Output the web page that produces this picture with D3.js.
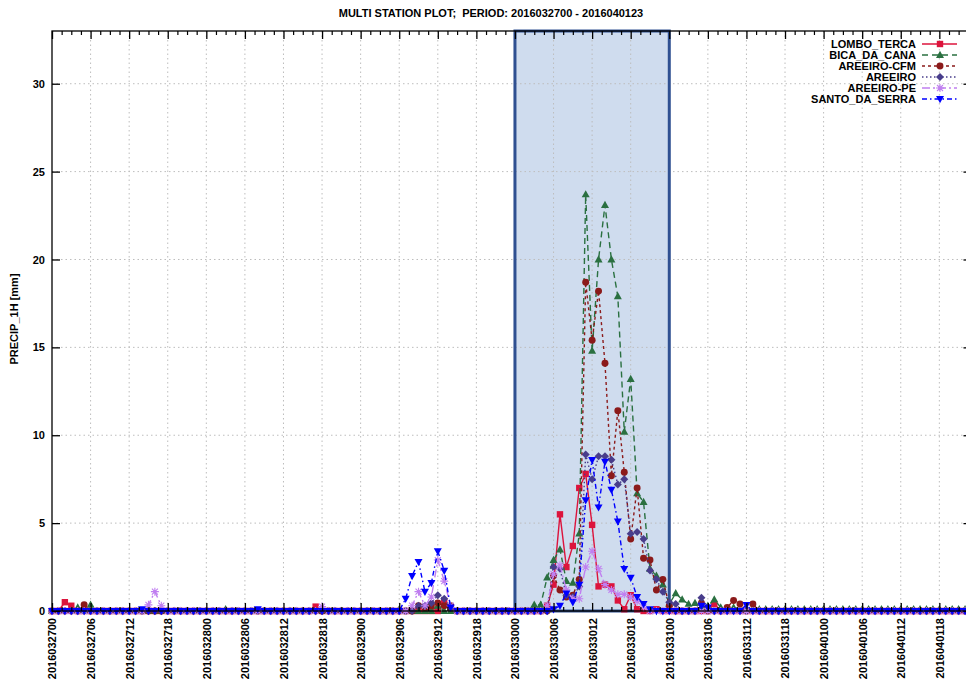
<!DOCTYPE html>
<html>
<head>
<meta charset="utf-8">
<script src="https://cdn.jsdelivr.net/npm/d3@7"></script>
<style>
  html, body { margin: 0; padding: 0; background: #fff; }
  svg { display: block; }
  text { font-family: "Liberation Sans", Arial, sans-serif; font-weight: bold; font-size: 11px; fill: #000; white-space: pre; }
</style>
</head>
<body>
<svg id="chart" width="966" height="681"></svg>
<script>
// ---------- DATA (hourly, 2016032700 .. 2016040123, one row per day) ----------
const titleText = "MULTI STATION PLOT;  PERIOD: 2016032700 - 2016040123";
const yLabel = "PRECIP_1H [mm]";

const xTickLabels = [
  "2016032700","2016032706","2016032712","2016032718",
  "2016032800","2016032806","2016032812","2016032818",
  "2016032900","2016032906","2016032912","2016032918",
  "2016033000","2016033006","2016033012","2016033018",
  "2016033100","2016033106","2016033112","2016033118",
  "2016040100","2016040106","2016040112","2016040118"
];
const yTickValues = [0, 5, 10, 15, 20, 25, 30];
const highlightPeriod = ["2016033000", "2016033100"];

const seriesNames = ["LOMBO_TERCA","BICA_DA_CANA","AREEIRO-CFM","AREEIRO","AREEIRO-PE","SANTO_DA_SERRA"];

const lomboTerca = [
  0,0,0.5,0.3,0,0,0,0,0,0,0,0,0,0,0,0,0,0,0,0,0,0,0,0,
  0,0,0,0,0,0,0,0,0,0,0,0,0,0,0,0,0,0.25,0,0,0,0,0,0,
  0,0,0,0,0,0,0,0,0,0,0,0,0,0.5,0.2,0,0,0,0,0,0,0,0,0,
  0,0,0,0,0,0.3,1.5,5.5,2.5,3.7,7.0,7.8,4.9,1.4,1.5,1.4,0.6,0.1,0.9,0.1,0,0,0.1,0,
  0,0,0,0,0,0,0,0.4,0,0,0,0,0,0,0,0,0,0,0,0,0,0,0,0,
  0,0,0,0,0,0,0,0,0,0,0,0,0,0,0,0,0,0,0,0,0,0,0,0
];
const bicaDaCana = [
  0,0,0,0,0.2,0,0.35,0,0,0,0,0,0,0,0,0,0,0,0,0,0,0,0,0,
  0,0,0,0.1,0,0,0,0,0,0,0,0,0,0,0,0,0,0,0,0,0,0,0,0,
  0,0,0,0,0,0,0.1,0,0,0,0,0,0.3,0,0,0,0,0,0,0,0,0,0,0,
  0,0,0,0.35,0.35,1.9,2.9,3.5,1.7,1.6,4.4,23.7,14.8,20.0,23.1,20.0,17.9,10.2,13.2,6.7,6.2,2.4,2.0,1.5,
  0.4,1.0,0.65,0.4,0.45,0.2,0.3,0.65,0.2,0.1,0.2,0.1,0.1,0.1,0.1,0.1,0.1,0.1,0.1,0.1,0.1,0.1,0.1,0.1,
  0.1,0.1,0.1,0.1,0.1,0.1,0.1,0.1,0.1,0.1,0.1,0.1,0.1,0.1,0.1,0.1,0.1,0.1,0.1,0.1,0.1,0.1,0.1,0.1
];
const areeiroCfm = [
  0,0,0,0,0,0.35,0,0,0,0,0,0,0,0,0,0,0,0,0,0,0,0,0,0,
  0,0,0,0,0,0,0,0,0,0,0,0,0,0,0,0,0,0,0,0,0,0,0,0,
  0,0,0,0,0,0,0,0,0,0.3,0.2,0.3,0.45,0.3,0.3,0,0,0,0,0,0,0,0,0,
  0,0,0,0,0,0,2.0,1.2,0.8,0.9,1.8,18.7,15.4,18.2,14.1,7.7,11.4,7.9,4.1,7.0,3.0,2.9,1.2,1.8,
  0.3,0,0,0,0,0.45,0,0,0,0.2,0.6,0.4,0,0.4,0,0,0,0,0,0,0,0,0,0,
  0,0,0,0,0,0,0,0,0,0,0,0,0,0,0,0,0,0,0,0,0,0,0,0
];
const areeiro = [
  0,0,0,0,0,0,0,0,0,0,0,0,0,0,0,0,0,0,0,0,0,0,0,0,
  0,0,0,0,0,0,0,0,0,0,0,0,0,0,0,0,0,0,0,0,0,0,0,0,
  0,0,0,0,0,0,0,0,0,0.3,0.3,0.45,0.9,0.7,0.2,0,0,0,0,0,0,0,0,0,
  0,0,0,0,0,0,2.5,2.4,0.9,0.8,1.4,8.9,7.5,8.8,8.8,8.6,7.2,7.5,4.4,4.5,4.1,2.3,1.8,1.1,
  0.5,0.4,0,0,0,0.75,0.2,0,0,0,0,0,0,0,0,0,0,0,0,0,0,0,0,0,
  0,0,0,0,0,0,0,0,0,0,0,0,0,0,0,0,0,0,0,0,0,0,0,0
];
const areeiroPe = [
  0,0,0,0,0,0,0,0,0,0,0,0,0,0,0,0.35,1.1,0.3,0,0,0,0,0,0,
  0,0,0,0,0,0,0,0,0,0,0,0,0,0,0,0,0,0,0.25,0,0,0,0,0,
  0,0,0,0,0,0,0,0,0.3,1.1,0.3,0.8,2.9,1.7,0.3,0,0,0,0,0,0,0,0,0,
  0,0,0,0,0,0.3,2.1,2.6,1.2,0.7,0.7,2.5,3.4,2.4,1.5,1.2,0.95,0.95,0.8,0.55,0.2,0,0,0,
  0,0,0,0,0,0,0,0,0,0,0,0,0,0,0,0,0,0,0,0,0,0,0,0,
  0,0,0,0,0,0,0,0,0,0,0,0,0,0,0,0,0,0,0,0,0,0,0,0
];
const santoDaSerra = [
  0,0,0,0,0,0,0,0,0,0,0,0,0,0,0.1,0,0,0,0,0,0,0,0,0,
  0,0,0,0,0,0,0,0,0.1,0,0,0,0,0,0,0,0,0,0,0,0,0,0,0,
  0,0,0,0,0,0,0,0.7,2.0,2.8,1.1,1.6,3.4,2.3,0.2,0,0,0,0,0,0,0,0,0,
  0,0,0,0,0,0,0.1,0.3,1.0,0.5,1.5,6.3,8.6,5.9,8.5,6.9,5.1,2.4,1.9,0.8,0.4,0.1,0,0,
  0,0,0,0,0,0.3,0.2,0,0,0,0,0,0.35,0,0,0,0,0,0,0,0,0,0,0,
  0,0,0,0,0,0,0,0,0,0,0,0,0,0,0,0,0,0,0,0,0,0,0,0
];

// ---------- STYLE ----------
const seriesValues = [lomboTerca, bicaDaCana, areeiroCfm, areeiro, areeiroPe, santoDaSerra];
const seriesColors = ["#dc143c", "#2a7040", "#8b1a1a", "#483d8b", "#c07ff0", "#0000ff"];
const seriesDash   = [null, "6,4", "3,3", "1.5,2.5", "8,3,2,3", "5,3,1.5,3"];
const seriesMarker = ["square", "triUp", "circle", "diamond", "star", "triDown"];

const plotLeft = 52, plotTop = 31, plotBottom = 611;
const pxPerHour = 6.43;
const nHours = lomboTerca.length;           // 144
function hourOfLabel(s) {
  // hours since 2016032700 from a YYYYMMDDHH label (days are within Mar/Apr 2016)
  const m = +s.slice(4,6), d = +s.slice(6,8), h = +s.slice(8,10);
  const dayIndex = (m === 3 ? d : 31 + d) - 27;
  return dayIndex * 24 + h;
}

const xScale = d3.scaleLinear().domain([0, nHours - 1]).range([plotLeft, plotLeft + (nHours - 1) * pxPerHour]);
const yScale = d3.scaleLinear().domain([0, 33]).range([plotBottom, plotTop]);
const plotRight = xScale.range()[1];

const svg = d3.select("#chart");

// highlight period (fill)
const hStart = hourOfLabel(highlightPeriod[0]), hEnd = hourOfLabel(highlightPeriod[1]);
svg.append("rect")
  .attr("x", xScale(hStart)).attr("y", plotTop)
  .attr("width", xScale(hEnd) - xScale(hStart)).attr("height", plotBottom - plotTop)
  .attr("fill", "#cfdcee");

// grid
const xTickHours = xTickLabels.map(hourOfLabel);
const grid = svg.append("g").attr("stroke", "#bdbdbd").attr("stroke-width", 1).attr("stroke-dasharray", "1.5,3");
grid.selectAll("line.vx").data(xTickHours.filter(h => h > 0)).enter().append("line")
  .attr("x1", d => xScale(d)).attr("x2", d => xScale(d)).attr("y1", plotTop).attr("y2", plotBottom);
grid.selectAll("line.hy").data(yTickValues.filter(v => v > 0)).enter().append("line")
  .attr("x1", plotLeft).attr("x2", plotRight).attr("y1", d => yScale(d)).attr("y2", d => yScale(d));

// highlight period (outline)
svg.append("rect")
  .attr("x", xScale(hStart)).attr("y", plotTop)
  .attr("width", xScale(hEnd) - xScale(hStart)).attr("height", plotBottom - plotTop)
  .attr("fill", "none").attr("stroke", "#2f5091").attr("stroke-width", 3);

// markers
function markerPath(type) {
  switch (type) {
    case "square": return "M-3.2,-3.2H3.2V3.2H-3.2Z";
    case "triUp": return "M0,-4.3L4,2.9L-4,2.9Z";
    case "triDown": return "M0,4.3L4,-2.9L-4,-2.9Z";
    case "diamond": return "M0,-4L4,0L0,4L-4,0Z";
    case "circle": return d3.symbol(d3.symbolCircle, 38)();
    case "star": return "M-4,0H4M0,-4V4M-3,-3L3,3M-3,3L3,-3";
  }
}
function drawMarker(g, type, color) {
  const p = g.append("path").attr("d", markerPath(type));
  if (type === "star") p.attr("fill", "none").attr("stroke", color).attr("stroke-width", 1.1);
  else p.attr("fill", color);
}

// series
const lineGen = d3.line().x((d, i) => xScale(i)).y(d => yScale(d));
seriesValues.forEach((vals, k) => {
  const g = svg.append("g");
  g.append("path").datum(vals).attr("d", lineGen)
    .attr("fill", "none").attr("stroke", seriesColors[k]).attr("stroke-width", 1.4)
    .attr("stroke-dasharray", seriesDash[k]);
  vals.forEach((v, i) => {
    const mg = g.append("g").attr("transform", `translate(${xScale(i)},${yScale(v)})`);
    drawMarker(mg, seriesMarker[k], seriesColors[k]);
  });
});

// border
svg.append("rect").attr("x", plotLeft).attr("y", plotTop).attr("width", plotRight - plotLeft).attr("height", plotBottom - plotTop)
  .attr("fill", "none").attr("stroke", "#000").attr("stroke-width", 1.3);

// axes
const minorHours = d3.range(0, nHours, 1.5).filter(h => h % 6 !== 0);
const xAxis = d3.axisBottom(xScale).tickValues(xTickHours).tickFormat((d, i) => xTickLabels[i]).tickSizeInner(-8).tickSizeOuter(0).tickPadding(7);
const gx = svg.append("g").attr("transform", `translate(0,${plotBottom})`).call(xAxis);
gx.select(".domain").remove();
gx.selectAll("line").attr("stroke", "#000").attr("stroke-width", 1.3);
gx.selectAll("text")
  .attr("transform", "rotate(-90)").attr("x", -7).attr("y", 0).attr("dy", "0.36em")
  .style("text-anchor", "end").attr("font-size", 11).attr("font-family", null);

const gxMinor = svg.append("g").attr("transform", `translate(0,${plotBottom})`)
  .call(d3.axisBottom(xScale).tickValues(minorHours).tickFormat("").tickSizeInner(-4).tickSizeOuter(0));
gxMinor.select(".domain").remove();
gxMinor.selectAll("line").attr("stroke", "#000").attr("stroke-width", 1.2);

const gxTop = svg.append("g").attr("transform", `translate(0,${plotTop})`)
  .call(d3.axisTop(xScale).tickValues(xTickHours).tickFormat("").tickSizeInner(-8).tickSizeOuter(0));
gxTop.select(".domain").remove();
gxTop.selectAll("line").attr("stroke", "#000").attr("stroke-width", 1.3);
const gxTopMinor = svg.append("g").attr("transform", `translate(0,${plotTop})`)
  .call(d3.axisTop(xScale).tickValues(minorHours).tickFormat("").tickSizeInner(-4).tickSizeOuter(0));
gxTopMinor.select(".domain").remove();
gxTopMinor.selectAll("line").attr("stroke", "#000").attr("stroke-width", 1.2);

const gy = svg.append("g").attr("transform", `translate(${plotLeft},0)`)
  .call(d3.axisLeft(yScale).tickValues(yTickValues).tickSizeInner(-8).tickSizeOuter(0).tickPadding(7));
gy.select(".domain").remove();
gy.selectAll("line").attr("stroke", "#000").attr("stroke-width", 1.3);
gy.selectAll("text").attr("font-size", 11).attr("font-family", null);

const gyR = svg.append("g").attr("transform", `translate(${plotRight},0)`)
  .call(d3.axisRight(yScale).tickValues(yTickValues).tickFormat("").tickSizeInner(-8).tickSizeOuter(0));
gyR.select(".domain").remove();
gyR.selectAll("line").attr("stroke", "#000").attr("stroke-width", 1.3);

// title & y label
svg.append("text").attr("x", 491).attr("y", 17).attr("text-anchor", "middle").text(titleText);
svg.append("text").attr("transform", "translate(18,319) rotate(-90)").attr("text-anchor", "middle").text(yLabel);

// legend
const legend = svg.append("g");
seriesNames.forEach((name, k) => {
  const ly = 44 + k * 11;
  legend.append("text").attr("x", 916).attr("y", ly).attr("dy", "0.35em").attr("text-anchor", "end").text(name);
  legend.append("line").attr("x1", 922).attr("x2", 957).attr("y1", ly).attr("y2", ly)
    .attr("stroke", seriesColors[k]).attr("stroke-width", 1.4).attr("stroke-dasharray", seriesDash[k]);
  const mg = legend.append("g").attr("transform", `translate(940,${ly})`);
  drawMarker(mg, seriesMarker[k], seriesColors[k]);
});
</script>
</body>
</html>
